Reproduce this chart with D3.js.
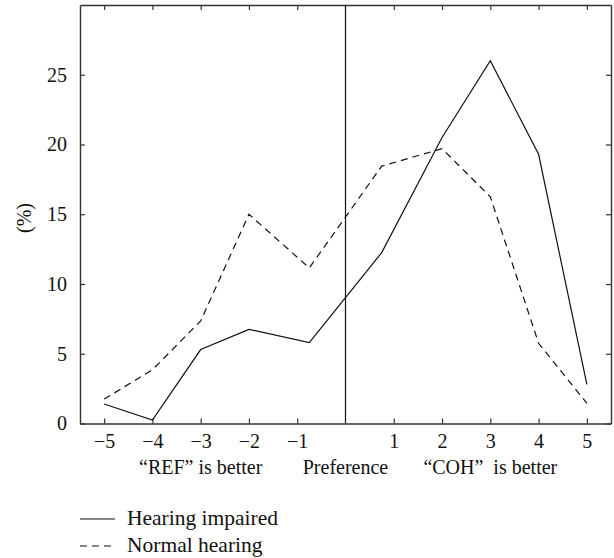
<!DOCTYPE html>
<html><head><meta charset="utf-8">
<script src="https://cdn.jsdelivr.net/npm/d3@7"></script>
<style>body{margin:0;background:#fff}svg{display:block}text{font-family:"Liberation Serif","Times New Roman",serif;fill:#111}</style>
</head><body><svg id="c" width="614" height="558"></svg>
<script>
const xPos = [-5, -4, -3, -2, -0.75, 0.75, 2, 3, 4, 5];
const impaired = [1.4, 0.25, 5.3, 6.75, 5.8, 12.25, 20.5, 26.0, 19.3, 2.8];
const normal = [1.75, 3.85, 7.35, 15.0, 11.15, 18.45, 19.7, 16.25, 5.75, 1.45];
const xTicks = [-5, -4, -3, -2, -1, 1, 2, 3, 4, 5];
const yTicks = [0, 5, 10, 15, 20, 25];
const groupLabels = [{x: -3, t: "“REF” is better"}, {x: 0, t: "Preference"}, {x: 3, t: "“COH”\u00a0 is better"}];
const seriesNames = ["Hearing impaired", "Normal hearing"];

const svg = d3.select("#c");
const L = 80, R = 611, T = 5, B = 423.5;
const x = d3.scaleLinear().domain([-5.5, 5.5]).range([L, R]);
const y = d3.scaleLinear().domain([0, 30]).range([B, T]);
const axCol = "#333";
const fmt = d => d < 0 ? "\u2212" + Math.abs(d) : String(d);

// axes
const gb = svg.append("g").attr("transform", `translate(0,${B})`)
  .call(d3.axisBottom(x).tickValues(xTicks).tickSizeInner(-5).tickSizeOuter(0).tickPadding(10).tickFormat(fmt));
const gt = svg.append("g").attr("transform", `translate(0,${T})`)
  .call(d3.axisTop(x).tickValues(xTicks).tickSizeInner(-5).tickSizeOuter(0).tickFormat(""));
const gl = svg.append("g").attr("transform", `translate(${L},0)`)
  .call(d3.axisLeft(y).tickValues(yTicks).tickSizeInner(-5).tickSizeOuter(0).tickPadding(13));
const gr = svg.append("g").attr("transform", `translate(${R},0)`)
  .call(d3.axisRight(y).tickValues(yTicks).tickSizeInner(-5).tickSizeOuter(0).tickFormat(""));
[gb, gt, gl, gr].forEach(g => {
  g.selectAll(".domain").attr("stroke", axCol).attr("stroke-width", 1.4);
  g.selectAll(".tick line").attr("stroke", axCol).attr("stroke-width", 1.2);
  g.selectAll("text").style("font-family", '"Liberation Serif",serif').style("font-size", "20px").attr("fill", "#111");
});
gb.selectAll("text").attr("dy", "0.71em");

// vertical preference line
svg.append("line").attr("x1", x(0)).attr("x2", x(0)).attr("y1", y(30)).attr("y2", y(0))
  .attr("stroke", "#111").attr("stroke-width", 1.2);

// series
const line = d3.line().x((d, i) => x(xPos[i])).y(d => y(d));
svg.append("path").datum(impaired).attr("d", line).attr("fill", "none").attr("stroke", "#111").attr("stroke-width", 1.2);
svg.append("path").datum(normal).attr("d", line).attr("fill", "none").attr("stroke", "#111").attr("stroke-width", 1.2).attr("stroke-dasharray", "7,5");

// group labels
svg.selectAll(".gl").data(groupLabels).enter().append("text")
  .attr("x", d => x(d.x)).attr("y", 474).attr("text-anchor", "middle")
  .style("font-size", "20px").style("white-space", "pre").text(d => d.t);

// y label
svg.append("text").attr("transform", "translate(31,218) rotate(-90)").attr("text-anchor", "middle")
  .style("font-size", "20px").text("(%)");

// legend
const lg = svg.append("g");
seriesNames.forEach((n, i) => {
  const yy = 519 + i * 27;
  lg.append("line").attr("x1", 80).attr("x2", 115).attr("y1", yy).attr("y2", yy)
    .attr("stroke", "#111").attr("stroke-width", 1.2).attr("stroke-dasharray", i ? "7,5" : null);
  lg.append("text").attr("x", 127).attr("y", yy + 6).style("font-size", "21.5px").text(n);
});
</script></body></html>
